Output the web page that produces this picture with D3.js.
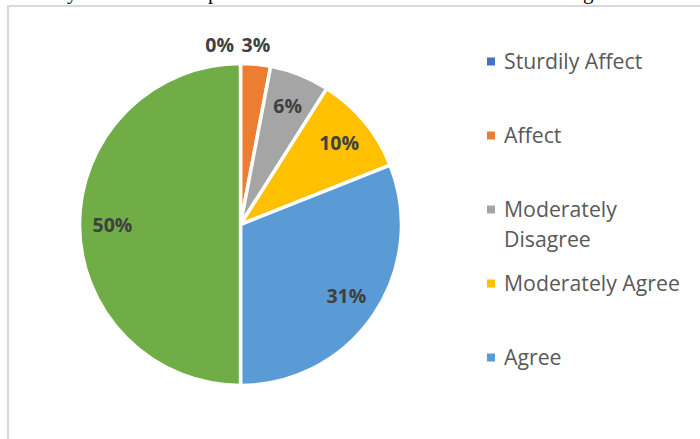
<!DOCTYPE html>
<html>
<head>
<meta charset="utf-8">
<script src="https://cdn.jsdelivr.net/npm/d3@7"></script>
<style>
  html, body { margin: 0; padding: 0; background: #fff; }
  svg { display: block; }
</style>
</head>
<body>
<svg id="chart" width="700" height="439"></svg>
<script>
// Survey response shares (percent), clockwise from 12 o'clock
const categories = ["Sturdily Affect", "Affect", "Moderately Disagree", "Moderately Agree", "Agree", "Strongly Agree"];
const values = [0, 3, 6, 10, 31, 50];
const colors = ["#4472C4", "#ED7D31", "#A5A5A5", "#FFC000", "#5B9BD5", "#70AD47"];
// Entries listed in the legend box
const legendCategories = categories.slice(0, 5);
// Fragments of the document line running above the chart frame
const captionFragments = [{ t: "y", x: 67 }, { t: "p", x: 208 }, { t: "g", x: 583 }];

const W = 700, H = 439;
const svg = d3.select("#chart");

// Document text above the frame (only descenders fall inside the view)
svg.append("g")
  .selectAll("text")
  .data(captionFragments)
  .join("text")
  .attr("x", d => d.x)
  .attr("y", -1.5)
  .attr("font-family", "Liberation Serif, Times New Roman, serif")
  .attr("font-size", 21)
  .attr("fill", "#000")
  .text(d => d.t);

// Chart frame
svg.append("rect")
  .attr("x", 8).attr("y", 6)
  .attr("width", W + 20).attr("height", H + 20)
  .attr("fill", "none")
  .attr("stroke", "#d9d9d9")
  .attr("stroke-width", 2);

// Pie
const cx = 240.5, cy = 224.5, R = 161;
const pie = d3.pie().sort(null).value(d => d.v);
const arcs = pie(values.map((v, i) => ({ v, name: categories[i], i })));
const arc = d3.arc().innerRadius(0).outerRadius(R);
const labelArcInside = d3.arc().innerRadius(128).outerRadius(128);
const labelArcOutside = d3.arc().innerRadius(180).outerRadius(180);

const gPie = svg.append("g").attr("transform", `translate(${cx},${cy})`);
gPie.selectAll("path")
  .data(arcs)
  .join("path")
  .attr("d", arc)
  .attr("fill", d => colors[d.data.i])
  .attr("stroke", "#fff")
  .attr("stroke-width", 3.5)
  .attr("stroke-linejoin", "round");

// Data labels: small slices sit outside the rim, the rest inside
const fmt = d => d3.format(".0f")(d.data.v) + "%";
gPie.selectAll("text.lbl")
  .data(arcs)
  .join("text")
  .attr("class", "lbl")
  .each(function (d) {
    const outside = d.data.v < 5;
    const [x, y] = (outside ? labelArcOutside : labelArcInside).centroid(d);
    const sel = d3.select(this);
    if (outside && d.data.v === 0) {
      // zero slice label is nudged left of the rim so it clears its neighbour
      sel.attr("x", x - 6.5).attr("text-anchor", "end");
    } else {
      sel.attr("x", outside ? x - 1.5 : x).attr("text-anchor", "middle");
    }
    sel.attr("y", y).attr("dy", "0.36em");
  })
  .attr("font-family", "Open Sans, sans-serif")
  .attr("font-weight", "bold")
  .attr("font-size", 19.5)
  .attr("fill", "#404040")
  .text(fmt);

// Legend
const legendX = 487, legendY0 = 61.5, legendStep = 74, lineGap = 29.5, maxTextW = 184;
const gLeg = svg.append("g");
const legendFont = "Open Sans, sans-serif";

// pick a font size so "Moderately Agree" spans ~176px
const probe = gLeg.append("text")
  .attr("font-family", legendFont).attr("font-size", 20)
  .text("Moderately Agree");
const probeW = probe.node().getComputedTextLength();
probe.remove();
const legendSize = 20 * 176 / probeW;

legendCategories.forEach((name, i) => {
  const y = legendY0 + i * legendStep;
  gLeg.append("rect")
    .attr("x", legendX).attr("y", y - 4)
    .attr("width", 8).attr("height", 8)
    .attr("fill", colors[i]);
  const t = gLeg.append("text")
    .attr("font-family", legendFont)
    .attr("font-size", legendSize)
    .attr("fill", "#595959");
  // word-wrap names that run past the legend width
  const words = name.split(" ");
  let lines = [], cur = "";
  words.forEach(w => {
    const test = cur ? cur + " " + w : w;
    t.text(test);
    if (t.node().getComputedTextLength() > maxTextW && cur) {
      lines.push(cur); cur = w;
    } else cur = test;
  });
  lines.push(cur);
  t.text(null);
  lines.forEach((ln, k) => {
    t.append("tspan")
      .attr("x", 504)
      .attr("y", y + k * lineGap)
      .attr("dy", "0.36em")
      .text(ln);
  });
});
</script>
</body>
</html>
